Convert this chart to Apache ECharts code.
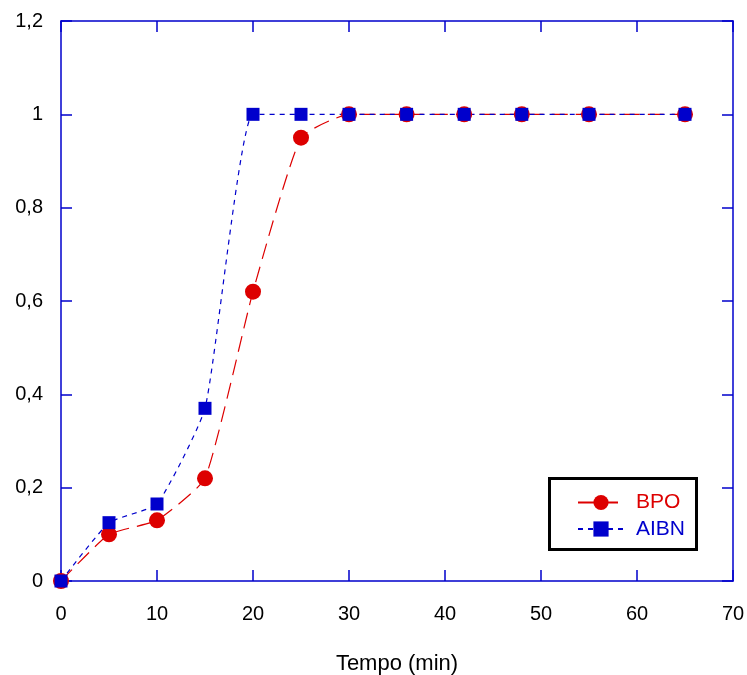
<!DOCTYPE html>
<html><head><meta charset="utf-8">
<script src="https://cdn.jsdelivr.net/npm/echarts@6/dist/echarts.min.js"></script>
<style>html,body{margin:0;padding:0;background:#fff}#c{width:747px;height:675px}</style>
</head><body><div id="c"></div>
<script>
const timeBPO = [0, 5, 10, 15, 20, 25, 30, 36, 42, 48, 55, 65];
const valBPO  = [0, 0.10, 0.13, 0.22, 0.62, 0.95, 1, 1, 1, 1, 1, 1];
const timeAIBN = [0, 5, 10, 15, 20, 25, 30, 36, 42, 48, 55, 65];
const valAIBN  = [0, 0.125, 0.165, 0.37, 1, 1, 1, 1, 1, 1, 1, 1];
const seriesNames = ['BPO', 'AIBN'];
const xTicks = [0, 10, 20, 30, 40, 50, 60, 70];
const yTicks = [0, 0.2, 0.4, 0.6, 0.8, 1, 1.2];

const axisBlue = '#0000cc';
const red = '#dd0000';
const blue = '#0000cc';
const font = 'Liberation Sans, Arial, sans-serif';

const chart = echarts.init(document.getElementById('c'));
const baseX = {
  type: 'value', min: 0, max: 70, interval: 10,
  axisLine: { show: true, onZero: false, lineStyle: { color: axisBlue, width: 1.5 } },
  axisTick: { show: true, inside: true, length: 11, lineStyle: { color: axisBlue, width: 1.5 } },
  splitLine: { show: false }
};
const baseY = {
  type: 'value', min: 0, max: 1.2, interval: 0.2,
  axisLine: { show: true, onZero: false, lineStyle: { color: axisBlue, width: 1.5 } },
  axisTick: { show: true, inside: true, length: 11, lineStyle: { color: axisBlue, width: 1.5 } },
  splitLine: { show: false }
};
chart.setOption({
  animation: false,
  backgroundColor: '#fff',
  grid: { left: 61, right: 14, top: 21, bottom: 94, containLabel: false, outerBoundsMode: 'none' },
  graphic: [{
    type: 'rect', left: 548, top: 477, z: 100,
    shape: { width: 147, height: 71 },
    style: { fill: 'transparent', stroke: '#000', lineWidth: 3 }
  }],
  xAxis: [
    Object.assign({}, baseX, {
      position: 'bottom',
      name: 'Tempo (min)', nameLocation: 'middle', nameGap: 72,
      nameTextStyle: { fontFamily: font, fontSize: 22, color: '#000' },
      axisLabel: { margin: 23, fontFamily: font, fontSize: 20, color: '#000',
        formatter: v => xTicks.includes(v) ? String(v) : '' }
    }),
    Object.assign({}, baseX, { position: 'top', axisLabel: { show: false } })
  ],
  yAxis: [
    Object.assign({}, baseY, {
      position: 'left',
      axisLabel: { margin: 18, fontFamily: font, fontSize: 20, color: '#000',
        formatter: v => { const t = yTicks.find(k => Math.abs(k - v) < 1e-9); return t === undefined ? '' : String(+t.toFixed(1)).replace('.', ','); } }
    }),
    Object.assign({}, baseY, { position: 'right', axisLabel: { show: false } })
  ],
  legend: {
    orient: 'vertical', left: 577, top: 492,
    padding: 0,
    itemWidth: 46, itemHeight: 19, itemGap: 5.5,
    textStyle: { fontFamily: font, fontSize: 21, lineHeight: 21, padding: [0, 0, 0, 7] },
    data: [
      { name: seriesNames[0], textStyle: { color: red } },
      { name: seriesNames[1], textStyle: { color: blue } }
    ]
  },
  series: [
    {
      name: seriesNames[0], type: 'line', smooth: 0.15,
      data: timeBPO.map((t, i) => [t, valBPO[i]]),
      symbol: 'circle', symbolSize: 16,
      itemStyle: { color: red },
      lineStyle: { color: red, width: 1.2, type: [16, 8] }
    },
    {
      name: seriesNames[1], type: 'line', smooth: 0.15,
      data: timeAIBN.map((t, i) => [t, valAIBN[i]]),
      symbol: 'rect', symbolSize: 13,
      itemStyle: { color: blue },
      lineStyle: { color: blue, width: 1.2, type: [5, 5] }
    }
  ]
});
</script>
</body></html>
